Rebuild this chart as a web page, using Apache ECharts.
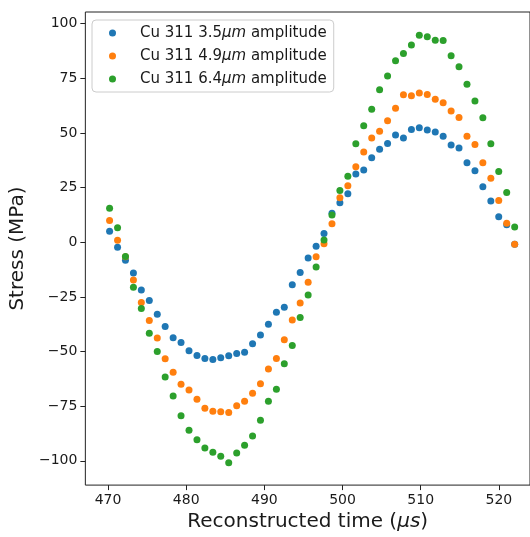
<!DOCTYPE html>
<html>
<head>
<meta charset="utf-8">
<script src="https://cdn.jsdelivr.net/npm/echarts@6/dist/echarts.min.js"></script>
<style>
html,body{margin:0;padding:0;background:#fff;}
#chart{width:530px;height:537px;}
</style>
</head>
<body>
<div id="chart"></div>
<script>
// Reconstructed time (µs)
const times = [470.20, 471.22, 472.23, 473.25, 474.26, 475.28, 476.30, 477.31, 478.33, 479.34,
  480.36, 481.38, 482.39, 483.41, 484.42, 485.44, 486.46, 487.47, 488.49, 489.50,
  490.52, 491.54, 492.55, 493.57, 494.58, 495.60, 496.62, 497.63, 498.65, 499.66,
  500.68, 501.70, 502.71, 503.73, 504.74, 505.76, 506.78, 507.79, 508.81, 509.82,
  510.84, 511.86, 512.87, 513.89, 514.90, 515.92, 516.94, 517.95, 518.97, 519.98,
  521.00, 522.02];

const seriesNames = ['Cu 311 3.5μm amplitude', 'Cu 311 4.9μm amplitude', 'Cu 311 6.4μm amplitude'];

const stress35 = [5.0, -2.3, -8.3, -14.1, -21.9, -26.7, -33.0, -38.6, -43.7, -45.9,
  -49.7, -51.8, -53.2, -53.6, -52.9, -51.9, -50.9, -50.3, -46.5, -42.5,
  -37.5, -32.0, -29.8, -19.5, -13.8, -7.2, -1.9, 4.0, 13.2, 18.0,
  22.2, 31.2, 33.0, 38.6, 42.5, 45.2, 49.0, 47.7, 51.5, 52.3,
  51.3, 50.4, 48.5, 44.5, 43.1, 36.3, 32.7, 25.4, 18.8, 11.6,
  8.0, -0.9];

const stress49 = [9.9, 0.9, -6.6, -17.3, -27.6, -35.8, -43.8, -53.3, -59.5, -65.0,
  -67.6, -71.8, -76.0, -77.3, -77.6, -77.9, -74.8, -72.7, -69.1, -64.7,
  -58.0, -53.2, -44.6, -35.6, -27.8, -18.3, -6.6, -0.7, 8.4, 20.3,
  25.8, 34.5, 41.3, 47.7, 50.8, 55.5, 61.3, 67.4, 67.0, 68.3,
  67.6, 65.4, 63.8, 60.0, 57.0, 48.5, 44.7, 36.3, 29.3, 19.1,
  8.7, -0.9];

const stress64 = [15.5, 6.6, -6.5, -20.6, -30.3, -41.6, -50.0, -61.6, -70.3, -79.4,
  -86.0, -90.4, -94.1, -96.1, -97.9, -100.9, -96.4, -92.9, -88.6, -81.4,
  -72.7, -67.3, -55.6, -47.3, -34.4, -24.2, -11.3, 1.0, 12.5, 23.7,
  30.2, 45.0, 53.3, 60.8, 69.7, 76.0, 83.0, 86.3, 90.2, 94.7,
  94.0, 92.4, 92.3, 85.3, 80.3, 72.2, 64.6, 56.9, 45.0, 32.3,
  22.7, 6.9];

const xTicks = [470, 480, 490, 500, 510, 520];
const yTicks = [-100, -75, -50, -25, 0, 25, 50, 75, 100];
const colors = ['#1f77b4', '#ff7f0e', '#2ca02c'];

function pairs(ys) { return times.map((t, i) => [t, ys[i]]); }
const allValues = [stress35, stress49, stress64];

const FONT = 'DejaVu Sans';
const chart = echarts.init(document.getElementById('chart'), null, {renderer: 'canvas'});

chart.setOption({
  animation: false,
  backgroundColor: '#ffffff',
  grid: {
    left: 83, top: 12, right: -5, bottom: 44,
    show: true, borderColor: '#222', borderWidth: 1, backgroundColor: 'transparent'
  },
  legend: {
    orient: 'vertical',
    left: 92, top: 20,
    padding: [5, 7, 5, 17],
    itemGap: 7,
    itemWidth: 7, itemHeight: 7,
    icon: 'circle',
    borderColor: '#cccccc', borderWidth: 1, borderRadius: 4,
    backgroundColor: 'rgba(255,255,255,0.8)',
    data: seriesNames,
    formatter: function (name) {
      const parts = name.split('μm');
      return '{s|}{n|' + parts[0] + '}{i|μm}{n|' + parts[1] + '}';
    },
    textStyle: {
      fontFamily: FONT, fontSize: 15, color: '#1a1a1a', lineHeight: 16,
      rich: {
        s: {width: 19},
        n: {fontFamily: FONT, fontSize: 15, color: '#1a1a1a'},
        i: {fontFamily: FONT, fontSize: 15, color: '#1a1a1a', fontStyle: 'italic'}
      }
    }
  },
  xAxis: {
    type: 'value',
    min: 467.1, max: 523.98,
    name: 'Reconstructed time ({i|μs})',
    nameLocation: 'middle',
    nameGap: 24,
    nameTextStyle: {
      fontFamily: FONT, fontSize: 20, color: '#1a1a1a',
      rich: {i: {fontFamily: FONT, fontSize: 20, fontStyle: 'italic', color: '#1a1a1a'}}
    },
    axisLine: {show: false, onZero: false},
    splitLine: {show: false},
    axisTick: {show: true, inside: false, length: 5, customValues: xTicks, lineStyle: {color: '#222', width: 1}},
    axisLabel: {
      customValues: xTicks, margin: 8,
      fontFamily: FONT, fontSize: 14, color: '#1a1a1a',
      formatter: v => String(v)
    }
  },
  yAxis: {
    type: 'value',
    min: -111.1, max: 105.3,
    name: 'Stress (MPa)',
    nameLocation: 'middle',
    nameGap: 51,
    nameTextStyle: {fontFamily: FONT, fontSize: 20, color: '#1a1a1a'},
    axisLine: {show: false, onZero: false},
    splitLine: {show: false},
    axisTick: {show: true, inside: false, length: 5, customValues: yTicks, lineStyle: {color: '#222', width: 1}},
    axisLabel: {
      customValues: yTicks, margin: 8,
      fontFamily: FONT, fontSize: 14, color: '#1a1a1a',
      formatter: v => String(v).replace('-', '\u2212')
    }
  },
  series: seriesNames.map((n, k) => ({
    name: n,
    type: 'scatter',
    symbol: 'circle',
    symbolSize: 7,
    itemStyle: {color: colors[k], opacity: 1},
    emphasis: {disabled: true},
    data: pairs(allValues[k])
  }))
});
</script>
</body>
</html>
